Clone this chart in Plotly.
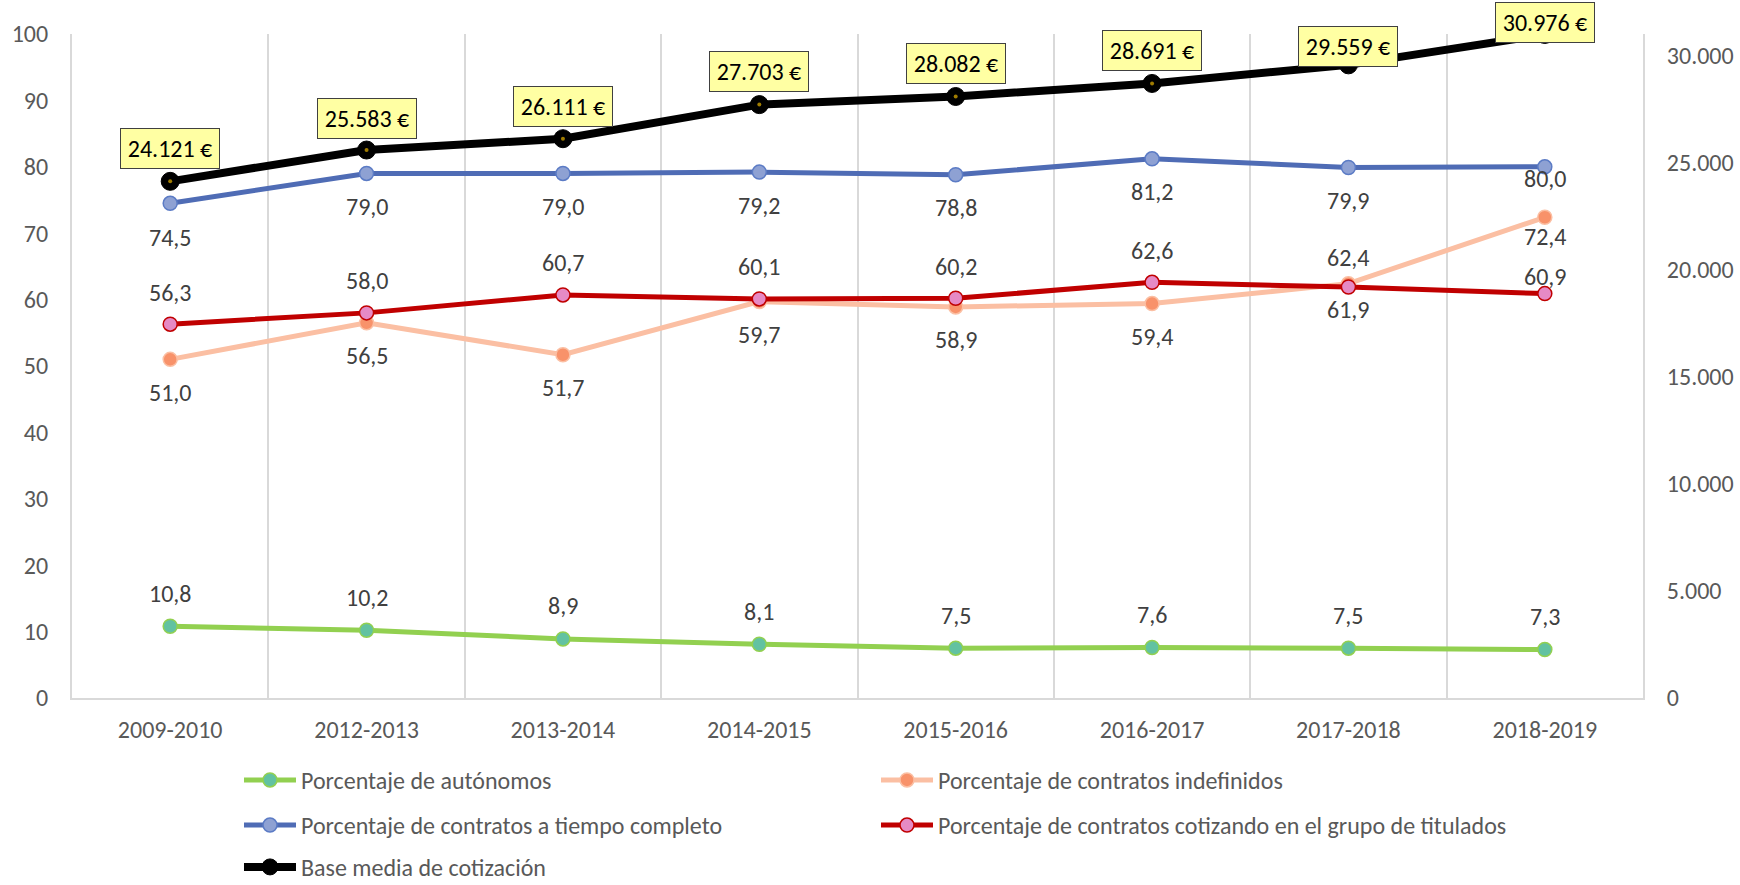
import plotly.graph_objects as go

categories = ["2009-2010", "2012-2013", "2013-2014", "2014-2015",
              "2015-2016", "2016-2017", "2017-2018", "2018-2019"]

autonomos = [10.8, 10.2, 8.9, 8.1, 7.5, 7.6, 7.5, 7.3]
indefinidos = [51.0, 56.5, 51.7, 59.7, 58.9, 59.4, 62.4, 72.4]
tiempo_completo = [74.5, 79.0, 79.0, 79.2, 78.8, 81.2, 79.9, 80.0]
titulados = [56.3, 58.0, 60.7, 60.1, 60.2, 62.6, 61.9, 60.9]
base_media = [24121, 25583, 26111, 27703, 28082, 28691, 29559, 30976]

left_ticks = list(range(0, 101, 10))
right_ticks = list(range(0, 30001, 5000))

FONT = "Calibri, Carlito, Lato, sans-serif"
FS = 24
GREY = "#595959"
LABEL = "#404040"

# label offsets (pixels, + = above)
shift_green = [33] * 8
shift_orange = [-33, -33, -33, -33, -33, -33, 26, -19]
shift_blue = [-34, -33, -33, -33, -33, -33, -33, -12]
shift_red = [32, 32, 32, 32, 32, 32, -23, 17]
shift_black = [33, 32, 32, 33, 33, 33, 18, 12]


def fmt_pct(v):
    return f"{v:.1f}".replace(".", ",")


def fmt_eur(v):
    return f"{v:,.0f}".replace(",", ".") + " €"


fig = go.Figure()

series = [
    ("Porcentaje de autónomos", autonomos, "#92D050", "#62C2A1", "#92D050", "legend"),
    ("Porcentaje de contratos indefinidos", indefinidos, "#FBBFA3", "#F8926A", "#FBBFA3", "legend"),
    ("Porcentaje de contratos a tiempo completo", tiempo_completo, "#4F6CB5", "#8EA1D3", "#5B7BC5", "legend2"),
    ("Porcentaje de contratos cotizando en el grupo de titulados", titulados, "#C00000", "#E68AC5", "#C00000", "legend2"),
]

for name, vals, lc, mfill, mline, lg in series:
    fig.add_trace(go.Scatter(
        x=categories, y=vals, name=name, mode="lines+markers",
        line=dict(color=lc, width=5),
        marker=dict(size=14, color=mfill, line=dict(color=mline, width=1.5)),
        legend=lg, yaxis="y", hoverinfo="skip",
    ))

fig.add_trace(go.Scatter(
    x=categories, y=base_media, name="Base media de cotización",
    mode="lines+markers", line=dict(color="black", width=8),
    marker=dict(size=18, color="black", line=dict(color="black", width=1)),
    legend="legend3", yaxis="y2", hoverinfo="skip",
))
fig.add_trace(go.Scatter(
    x=categories, y=base_media, mode="markers", showlegend=False,
    marker=dict(size=4, color="#A07C00"), yaxis="y2", hoverinfo="skip",
))

annotations = []
for vals, shifts in [(autonomos, shift_green), (indefinidos, shift_orange),
                     (tiempo_completo, shift_blue), (titulados, shift_red)]:
    for c, v, s in zip(categories, vals, shifts):
        annotations.append(dict(
            x=c, y=v, xref="x", yref="y", text=fmt_pct(v), showarrow=False,
            yshift=s, font=dict(family=FONT, size=FS, color=LABEL),
        ))
for c, v, s in zip(categories, base_media, shift_black):
    annotations.append(dict(
        x=c, y=v, xref="x", yref="y2", text=fmt_eur(v), showarrow=False,
        yshift=s, font=dict(family=FONT, size=FS, color="black"),
        bgcolor="#FFFFA3", bordercolor="#404040", borderwidth=1, borderpad=5,
        width=88,
    ))

legend_common = dict(
    orientation="h", xanchor="left", yanchor="middle", x=0.1063,
    font=dict(family=FONT, size=FS, color=GREY),
    entrywidth=570, entrywidthmode="pixels", bgcolor="rgba(0,0,0,0)",
    itemwidth=52,
)

fig.update_layout(
    width=1740, height=885,
    margin=dict(l=72, r=97, t=34, b=187, autoexpand=False),
    paper_bgcolor="white", plot_bgcolor="white",
    separators=",.",
    font=dict(family=FONT, size=FS, color=GREY),
    xaxis=dict(
        type="category", categoryorder="array", categoryarray=categories,
        range=[-0.5, 7.5], tickson="boundaries", showgrid=True,
        gridcolor="#D9D9D9", gridwidth=2, showline=True, linecolor="#D9D9D9",
        linewidth=2, ticks="", tickfont=dict(family=FONT, size=FS, color=GREY),
        ticklabelstandoff=9, zeroline=False,
    ),
    yaxis=dict(
        range=[0, 100], tickvals=left_ticks, showgrid=False, zeroline=False,
        showline=True, linecolor="#D9D9D9", linewidth=2, ticks="",
        tickfont=dict(family=FONT, size=FS, color=GREY), ticklabelstandoff=17,
    ),
    yaxis2=dict(
        range=[0, 31000], tickvals=right_ticks, tickformat=",d", overlaying="y",
        side="right", showgrid=False, zeroline=False, showline=True,
        linecolor="#D9D9D9", linewidth=2, ticks="",
        tickfont=dict(family=FONT, size=FS, color=GREY), ticklabelstandoff=17,
    ),
    legend=dict(legend_common, y=-0.124),
    legend2=dict(legend_common, y=-0.192),
    legend3=dict(legend_common, y=-0.255),
    annotations=annotations,
)

fig.write_html(
    "out.html",
    config={"displayModeBar": False},
    post_script="document.body.style.margin='0';document.body.style.overflow='hidden';",
)
